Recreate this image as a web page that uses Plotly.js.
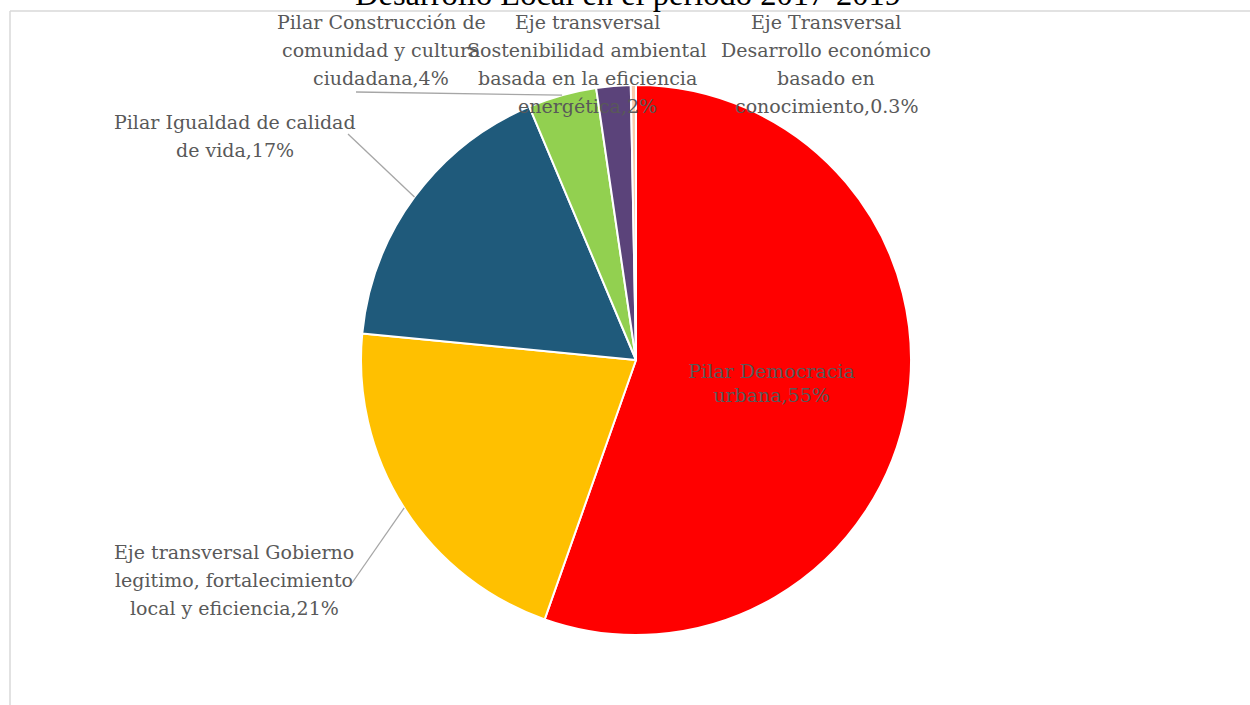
<!DOCTYPE html>
<html>
<head>
<meta charset="utf-8">
<script src="https://cdn.plot.ly/plotly-3.0.1.min.js"></script>
<style>html,body{margin:0;padding:0;background:#fff;}#chart{width:1250px;height:705px;}</style>
</head>
<body>
<div id="chart"></div>
<script>
// ---- data ----
const categories = [
  "Pilar Democracia urbana",
  "Eje transversal Gobierno legitimo, fortalecimiento local y eficiencia",
  "Pilar Igualdad de calidad de vida",
  "Pilar Construcción de comunidad y cultura ciudadana",
  "Eje transversal Sostenibilidad ambiental basada en la eficiencia energética",
  "Eje Transversal Desarrollo económico basado en conocimiento"
];
const values = [55, 21, 17, 4, 2, 0.3];
const valueLabels = ["55%", "21%", "17%", "4%", "2%", "0.3%"];
const labelLines = [
  ["Pilar Democracia", "urbana,55%"],
  ["Eje transversal Gobierno", "legitimo, fortalecimiento", "local y eficiencia,21%"],
  ["Pilar Igualdad de calidad", "de vida,17%"],
  ["Pilar Construcción de", "comunidad y cultura", "ciudadana,4%"],
  ["Eje transversal", "Sostenibilidad ambiental", "basada en la eficiencia", "energética,2%"],
  ["Eje Transversal", "Desarrollo económico", "basado en", "conocimiento,0.3%"]
];
const colors = ["#FF0000", "#FFC000", "#1F5A7B", "#92D050", "#5B437A", "#F8CBAD"];
const titleText = "Desarrollo Local en el periodo 2017-2019";

// ---- layout helpers (pixel -> paper) ----
const W = 1250, H = 705;
const CX = 636, CY = 360, R = 275;
const px = x => x / W;
const py = y => 1 - y / H;

const FONT = "DejaVu Serif, serif";
const TFONT = "Liberation Serif, Times New Roman, serif";
const TXT = "#595959";
const FS = 19, LINE = 28;

const trace = {
  type: "pie",
  labels: categories,
  values: values,
  sort: false,
  direction: "clockwise",
  rotation: 0,
  marker: {colors: colors, line: {color: "#FFFFFF", width: 2}},
  text: labelLines.map(l => l.join("<br>")),
  textinfo: "text",
  textposition: values.map((v, i) => i === 0 ? "inside" : "none"),
  insidetextorientation: "horizontal",
  insidetextfont: {family: FONT, size: FS, color: TXT},
  showlegend: false,
  hoverinfo: "label+percent",
  domain: {x: [px(CX - R), px(CX + R)], y: [py(CY + R), py(CY - R)]}
};

// outside label centres (pixels) and leader line starts
const labelPos = [null, [234, 580], [235, 136], [381, 50], [587, 64], [826, 64]];
const leaderStart = [null, [352, 583], [348, 134], [356, 92], null, null];

const total = values.reduce((a, b) => a + b, 0);
let cum = 0;
const mids = values.map(v => { const m = (cum + v / 2) / total * 2 * Math.PI; cum += v; return m; });

const annotations = [];
const shapes = [];
labelLines.forEach((lines, i) => {
  if (!labelPos[i]) return;
  const n = lines.length;
  lines.forEach((ln, k) => {
    annotations.push({
      xref: "paper", yref: "paper",
      x: px(labelPos[i][0]), y: py(labelPos[i][1] + (k - (n - 1) / 2) * LINE),
      xanchor: "center", yanchor: "middle",
      text: ln, showarrow: false,
      font: {family: FONT, size: FS, color: TXT}
    });
  });
  if (leaderStart[i]) {
    const ex = CX + R * Math.sin(mids[i]);
    const ey = CY - R * Math.cos(mids[i]);
    shapes.push({
      type: "line", xref: "paper", yref: "paper",
      x0: px(leaderStart[i][0]), y0: py(leaderStart[i][1]),
      x1: px(ex), y1: py(ey),
      line: {color: "#A6A6A6", width: 1.3}
    });
  }
});
// frame lines
shapes.push({type: "line", xref: "paper", yref: "paper", x0: px(10), x1: 1, y0: py(11), y1: py(11), line: {color: "#D9D9D9", width: 1.5}});
shapes.push({type: "line", xref: "paper", yref: "paper", x0: px(10), x1: px(10), y0: py(11), y1: 0, line: {color: "#D9D9D9", width: 1.5}});

const layout = {
  width: W, height: H,
  margin: {l: 0, r: 0, t: 0, b: 0},
  paper_bgcolor: "#FFFFFF",
  title: {text: titleText, font: {family: TFONT, size: 32.5, color: "#000000"},
          x: px(628), xanchor: "center", y: 1 - 5 / H, yref: "container", yanchor: "bottom"},
  annotations: annotations,
  shapes: shapes
};

Plotly.newPlot("chart", [trace], layout, {displayModeBar: false, staticPlot: true});
</script>
</body>
</html>
